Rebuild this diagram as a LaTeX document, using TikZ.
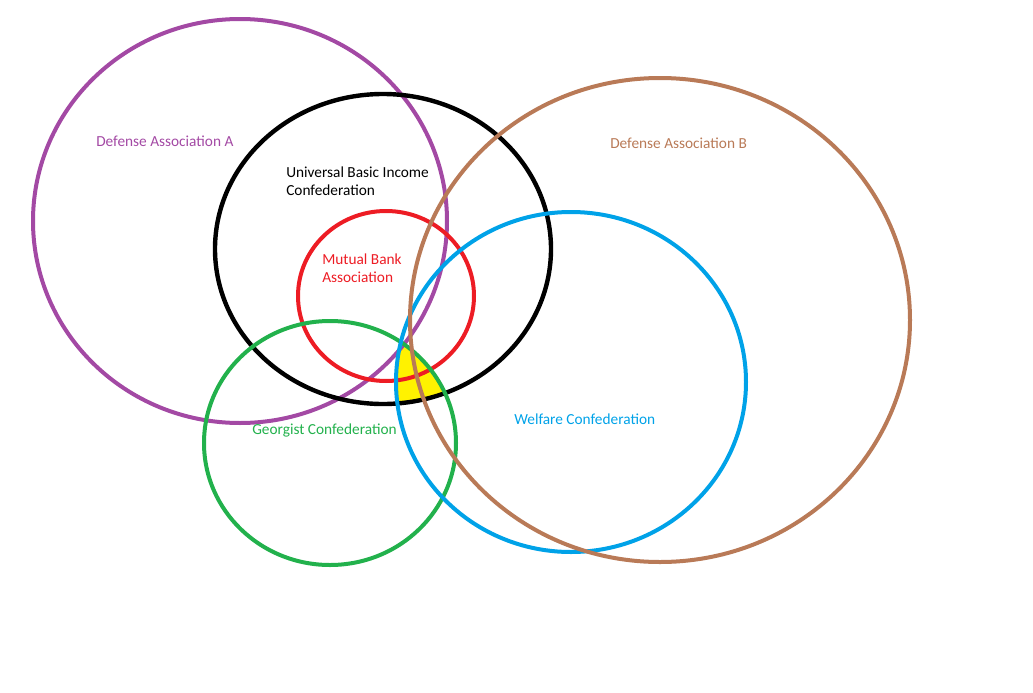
\documentclass[tikz,border=0pt]{standalone}
\usepackage{fontspec}
\setmainfont{Carlito}
\definecolor{paintpurple}{RGB}{163,73,164}
\definecolor{paintred}{RGB}{237,28,36}
\definecolor{paintgreen}{RGB}{34,177,76}
\definecolor{paintblue}{RGB}{0,162,232}
\definecolor{paintbrown}{RGB}{185,122,87}
\definecolor{paintyellow}{RGB}{255,242,0}
\tikzset{
  ring/.style={line width=3pt},
  tag/.style={anchor=west, inner sep=0pt, align=left, font=\fontsize{11.5}{13.5}\selectfont}
}

\begin{document}
\begin{tikzpicture}[x=0.75pt,y=-0.75pt]
\useasboundingbox (0,0) rectangle (1033,693);
% yellow patch: black, blue and green, outside purple
\begin{scope}
\clip (383,249) ellipse [x radius=168, y radius=155];
\clip (571,382) ellipse [x radius=175, y radius=170];
\clip (330,443) ellipse [x radius=126, y radius=122];
\fill[paintyellow] (0,0) rectangle (1033,693);
\fill[white] (240,221) ellipse [x radius=207, y radius=202];
\end{scope}
\draw[ring, paintpurple] (240,221) ellipse [x radius=207, y radius=202];
\draw[ring, black, line width=3.3pt] (383,249) ellipse [x radius=168, y radius=155];
\draw[ring, paintred] (386,296) ellipse [x radius=88, y radius=85];
\draw[ring, paintgreen] (330,443) ellipse [x radius=126, y radius=122];
\draw[ring, paintblue] (571,382) ellipse [x radius=175, y radius=170];
\draw[ring, paintbrown] (660,320) ellipse [x radius=250, y radius=242];
\node[tag, text=paintpurple] (defa) at (96,141) {Defense Association A};
\node[tag, text=black] (ubi) at (286,181) {Universal Basic Income\\Confederation};
\node[tag, text=paintred] (bank) at (322,268) {Mutual Bank\\Association};
\node[tag, text=paintbrown] (defb) at (610,143) {Defense Association B};
\node[tag, text=paintgreen] (georg) at (252,430) {Georgist Confederation};
\node[tag, text=paintblue] (welf) at (514,419) {Welfare Confederation};
\end{tikzpicture}
\end{document}
